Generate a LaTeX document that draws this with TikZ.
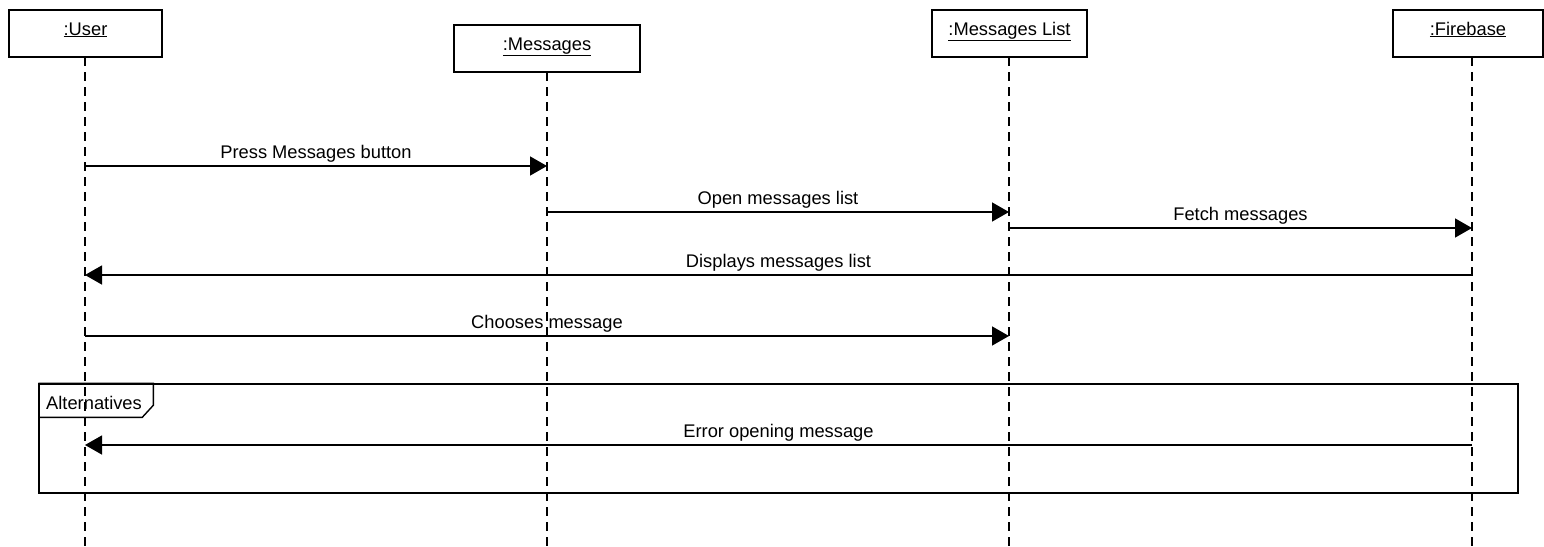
\documentclass[tikz,border=0pt]{standalone}
\usepackage{fontspec}
\setmainfont{Liberation Sans}
\usetikzlibrary{arrows.meta}
\tikzset{
  obj/.style={draw, line width=1.4pt, minimum height=47pt, inner sep=0pt,
    text height=8pt, text depth=5pt, font=\fontsize{18.3}{21}\selectfont},
  life/.style={line width=1.4pt, dash pattern=on 9pt off 6pt},
  msg/.style={line width=1.4pt, -{Triangle[length=17pt,width=19pt]}},
  lbl/.style={font=\fontsize{18.3}{21}\selectfont, anchor=base, yshift=8pt, inner sep=0pt},
  frame/.style={draw, line width=1.4pt},
}
\begin{document}
\begin{tikzpicture}[x=1pt,y=-1pt]
\useasboundingbox (0,0) rectangle (1544,546);
% objects
\node[obj, minimum width=153pt] (user) at (85.5,33.5) {\underline{:User}};
\node[obj, minimum width=186pt] (msgs) at (547,48.5) {\underline{:Messages}};
\node[obj, minimum width=155pt] (list) at (1009.5,33.5) {\underline{:Messages List}};
\node[obj, minimum width=150pt] (fb) at (1468,33.5) {\underline{:Firebase}};
% lifeline tops and bottoms
\coordinate (uT) at (85,57);   \coordinate (uB) at (85,546);
\coordinate (mT) at (547,72);  \coordinate (mB) at (547,546);
\coordinate (lT) at (1009,57); \coordinate (lB) at (1009,546);
\coordinate (fT) at (1472,57); \coordinate (fB) at (1472,546);
\draw[life] (uT) -- (uB);
\draw[life] (mT) -- (mB);
\draw[life] (lT) -- (lB);
\draw[life] (fT) -- (fB);
% rows
\coordinate (r1) at (0,166);
\coordinate (r2) at (0,212);
\coordinate (r3) at (0,228);
\coordinate (r4) at (0,275);
\coordinate (r5) at (0,336);
\coordinate (r6) at (0,445);
% messages
\draw[msg] (uT |- r1) -- node[lbl, midway] {Press Messages button} (mT |- r1);
\draw[msg] (mT |- r2) -- node[lbl, midway] {Open messages list} (lT |- r2);
\draw[msg] (lT |- r3) -- node[lbl, midway] {Fetch messages} (fT |- r3);
\draw[msg] (fT |- r4) -- node[lbl, midway] {Displays messages list} (uT |- r4);
\draw[msg] (uT |- r5) -- node[lbl, midway] {Chooses message} (lT |- r5);
% alternatives frame
\node[frame, minimum width=1479pt, minimum height=109pt, inner sep=0pt] (alt) at (778.5,438.5) {};
\draw[frame] (alt.north west) -- ++(115,0) -- ++(0,22) -- ++(-11,12) -- ++(-104,0);
\node[font=\fontsize{18.3}{21}\selectfont, anchor=base west, inner sep=0pt] (altlbl) at (46,409) {Alternatives};
\draw[msg] (fT |- r6) -- node[lbl, midway] {Error opening message} (uT |- r6);
\end{tikzpicture}
\end{document}
